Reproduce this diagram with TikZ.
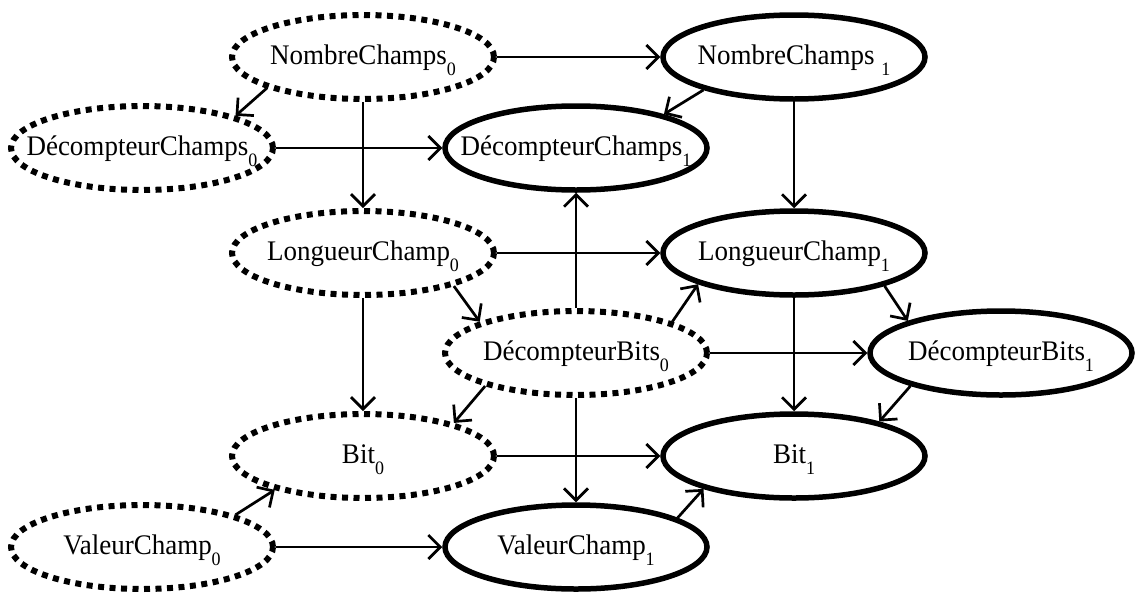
\documentclass[tikz,border=0pt]{standalone}
\usepackage{fontspec}
\usepackage{graphicx}
\setmainfont{Liberation Serif}
\usetikzlibrary{shapes.geometric,arrows.meta}
% lowered index digit after a variable name
\newcommand{\idx}[1]{\raisebox{-11pt}[0pt][0pt]{\fontsize{18}{18}\selectfont #1}}
% variable name, set slightly tall
\newcommand{\vname}[1]{\scalebox{1}[1.05]{#1}}
\begin{document}
\begin{tikzpicture}[x=1pt,y=-1pt,
  lbl/.style={font=\fontsize{27}{30}\selectfont, inner sep=0pt, text height=18pt, text depth=4pt},
  var/.style={ellipse, minimum width=262pt, minimum height=84pt, inner sep=0pt,
              line width=5.5pt, draw, label={[lbl]center:{\vname{#1}}}},
  prev/.style={var={#1}, line width=6pt, dash pattern=on 6pt off 5.5pt},
  curr/.style={var={#1}},
  link/.style={line width=2.7pt, -{Straight Barb[length=12pt,width=24pt]}}
]
\useasboundingbox[fill=white] (0,0) rectangle (1135,592);

% slice 0 (dotted) and slice 1 (solid)
\node[prev={NombreChamps\idx{0}}]        (n0)  at (363,57)  {};
\node[curr={NombreChamps\ \idx{1}}]      (n1)  at (794,57)  {};
\node[prev={DécompteurChamps\idx{0}}]    (dc0) at (142,148) {};
\node[curr={DécompteurChamps\idx{1}}]    (dc1) at (576,148) {};
\node[prev={LongueurChamp\idx{0}}]       (l0)  at (363,253) {};
\node[curr={LongueurChamp\idx{1}}]       (l1)  at (794,253) {};
\node[prev={DécompteurBits\idx{0}}]      (db0) at (576,353) {};
\node[curr={DécompteurBits\idx{1}}]      (db1) at (1001,353) {};
\node[prev={Bit\idx{0}}]                 (b0)  at (363,456) {};
\node[curr={Bit\idx{1}}]                 (b1)  at (794,456) {};
\node[prev={ValeurChamp\idx{0}}]         (v0)  at (142,547) {};
\node[curr={ValeurChamp\idx{1}}]         (v1)  at (576,547) {};

% dependencies
\draw[link] (n0.east)  -- (n1.west);
\draw[link] (n0.198)   -- (dc0.19);
\draw[link] (n0.south) -- (l0.north);
\draw[link] (dc0.east) -- (dc1.west);
\draw[link] (n1.200)   -- (dc1.21);
\draw[link] (n1.south) -- (l1.north);
\draw[link] (l0.east)  -- (l1.west);
\draw[link] (l0.340)   -- (db0.162);
\draw[link] (l0.south) -- (b0.north);
\draw[link] (db0.north) -- (dc1.south);
\draw[link] (db0.18)   -- (l1.198);
\draw[link] (db0.east) -- (db1.west);
\draw[link] (db0.200)  -- (b0.20);
\draw[link] (db0.south) -- (v1.north);
\draw[link] (l1.340)   -- (db1.161);
\draw[link] (l1.south) -- (b1.north);
\draw[link] (db1.200)  -- (b1.22);
\draw[link] (b0.east)  -- (b1.west);
\draw[link] (v0.19)    -- (b0.201);
\draw[link] (v0.east)  -- (v1.west);
\draw[link] (v1.16)    -- (b1.200);
\end{tikzpicture}
\end{document}
